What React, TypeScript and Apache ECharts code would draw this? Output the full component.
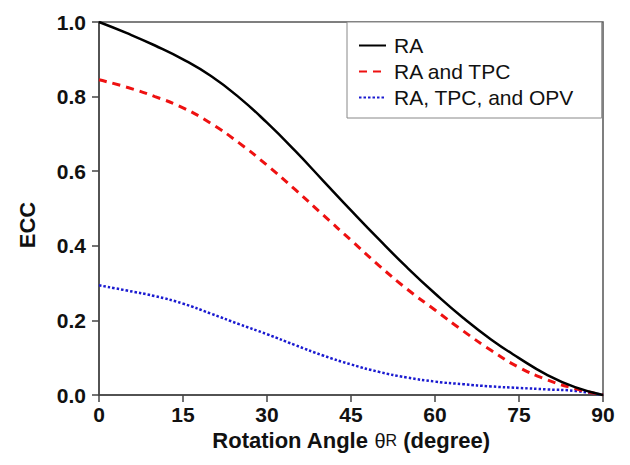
import React, { useEffect, useRef } from "react";
import * as echarts from "echarts";

const angles = [0, 5, 10, 15, 20, 25, 30, 35, 40, 45, 50, 55, 60, 65, 70, 75, 80, 85, 90];
const raValues = [1.0, 0.97, 0.937, 0.9, 0.855, 0.798, 0.73, 0.655, 0.575, 0.495, 0.417, 0.342, 0.272, 0.207, 0.149, 0.099, 0.054, 0.021, 0.0];
const raTpcValues = [0.845, 0.825, 0.8, 0.77, 0.728, 0.676, 0.616, 0.551, 0.483, 0.415, 0.347, 0.284, 0.228, 0.172, 0.12, 0.074, 0.041, 0.017, 0.0];
const raTpcOpvValues = [0.294, 0.28, 0.265, 0.245, 0.218, 0.19, 0.163, 0.134, 0.106, 0.082, 0.062, 0.047, 0.036, 0.029, 0.023, 0.019, 0.015, 0.011, 0.0];
const seriesNames = ["RA", "RA and TPC", "RA, TPC, and OPV"];
const xTicks = [0, 15, 30, 45, 60, 75, 90];
const yTicks = [0, 0.2, 0.4, 0.6, 0.8, 1.0];

const FONT = "'Liberation Sans', Arial, Helvetica, sans-serif";

export default function App() {
  const ref = useRef<HTMLDivElement>(null);
  useEffect(() => {
    if (!ref.current) return;
    const chart = echarts.init(ref.current, undefined, { renderer: "svg" });
    const pair = (vals: number[]) => angles.map((a, i) => [a, vals[i]]);
    chart.setOption({
      animation: false,
      backgroundColor: "#ffffff",
      grid: {
        left: 99,
        right: 27,
        top: 22,
        bottom: 70,
        show: true,
        borderColor: "#555555",
        borderWidth: 1.5,
        backgroundColor: "transparent",
      },
      legend: {
        left: 347,
        top: 22,
        orient: "vertical",
        data: seriesNames,
        backgroundColor: "#ffffff",
        borderColor: "#888888",
        borderWidth: 1,
        padding: [13, 28, 10, 11],
        itemGap: 5,
        itemWidth: 27,
        itemHeight: 14,
        itemStyle: { opacity: 0 },
        textStyle: { fontFamily: FONT, fontSize: 21, color: "#111111", padding: [0, 0, 0, 3] },
      },
      xAxis: {
        type: "value",
        min: xTicks[0],
        max: xTicks[xTicks.length - 1],
        interval: 15,
        name: "Rotation Angle {t|θ}{r|R} (degree)",
        nameLocation: "middle",
        nameGap: 34,
        nameTextStyle: {
          fontFamily: FONT,
          fontSize: 22,
          fontWeight: "bold",
          color: "#111111",
          rich: {
            t: { fontFamily: FONT, fontSize: 20, fontWeight: "normal", color: "#111111" },
            r: { fontFamily: FONT, fontSize: 16, fontWeight: "normal", color: "#111111" },
          },
        },
        axisLine: { show: true, lineStyle: { color: "#444444", width: 1.5 } },
        axisTick: { show: true, length: 7, inside: false, lineStyle: { color: "#444444", width: 1.5 } },
        axisLabel: {
          margin: 9,
          fontFamily: FONT,
          fontSize: 21,
          fontWeight: "bold",
          color: "#111111",
        },
        splitLine: { show: false },
      },
      yAxis: {
        type: "value",
        min: yTicks[0],
        max: yTicks[yTicks.length - 1],
        interval: 0.2,
        axisLine: { show: true, lineStyle: { color: "#444444", width: 1.5 } },
        axisTick: { show: true, length: 7, inside: false, lineStyle: { color: "#444444", width: 1.5 } },
        axisLabel: {
          margin: 13,
          fontFamily: FONT,
          fontSize: 21,
          fontWeight: "bold",
          color: "#111111",
          formatter: (v: number) => v.toFixed(1),
        },
        splitLine: { show: false },
      },
      graphic: [
        {
          type: "text",
          x: 27,
          y: 225,
          rotation: Math.PI / 2,
          style: {
            text: "ECC",
            fontFamily: FONT,
            fontSize: 22,
            fontWeight: "bold",
            fill: "#111111",
            align: "center",
            verticalAlign: "middle",
          },
        },
      ],
      series: [
        {
          name: seriesNames[0],
          type: "line",
          data: pair(raValues),
          smooth: true,
          symbol: "none",
          lineStyle: { color: "#000000", width: 2.5, type: "solid" },
          itemStyle: { color: "#000000" },
          z: 3,
        },
        {
          name: seriesNames[1],
          type: "line",
          data: pair(raTpcValues),
          smooth: true,
          symbol: "none",
          lineStyle: { color: "#ee1111", width: 3, type: [8, 6] },
          itemStyle: { color: "#ee1111" },
          z: 2,
        },
        {
          name: seriesNames[2],
          type: "line",
          data: pair(raTpcOpvValues),
          smooth: true,
          symbol: "none",
          lineStyle: { color: "#1a1ad0", width: 2.5, type: [2.5, 2] },
          itemStyle: { color: "#1a1ad0" },
          z: 1,
        },
      ],
    });
    return () => chart.dispose();
  }, []);
  return (
    <div
      ref={ref}
      style={{ position: "fixed", left: 0, top: 0, width: 630, height: 465, background: "#fff" }}
    />
  );
}
